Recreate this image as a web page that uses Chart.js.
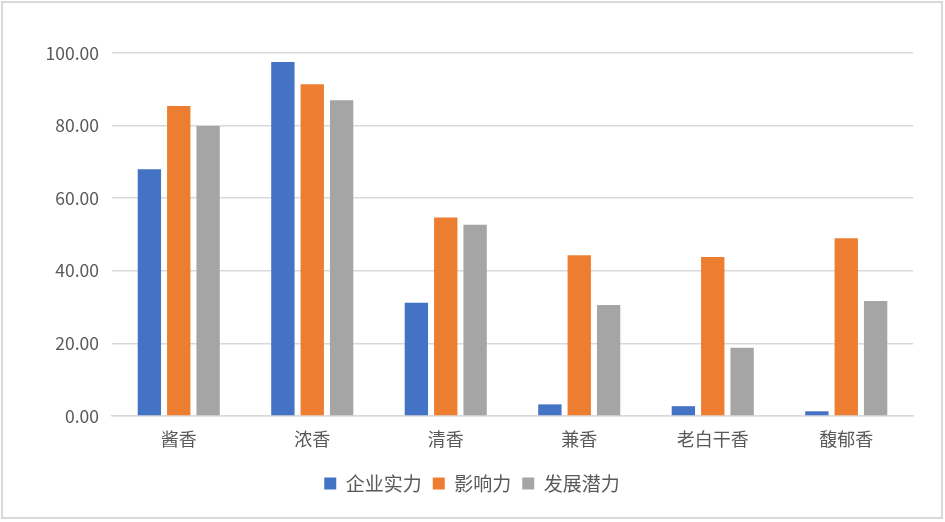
<!DOCTYPE html>
<html>
<head>
<meta charset="utf-8">
<script src="https://cdn.jsdelivr.net/npm/chart.js@4"></script>
<style>
html,body{margin:0;padding:0;background:#fff;}
#box{position:absolute;left:1px;top:1px;width:942px;height:518px;border:2px solid #d9d9d9;box-sizing:border-box;}
#wrap{position:absolute;left:0;top:0;width:938px;height:514px;}
</style>
</head>
<body>
<div id="box"><div id="wrap"><canvas id="c"></canvas></div></div>
<script>
const categories = ['酱香','浓香','清香','兼香','老白干香','馥郁香'];
const seriesNames = ['企业实力','影响力','发展潜力'];
const strength = [68.0, 97.5, 31.2, 3.2, 2.7, 1.3];
const influence = [85.4, 91.4, 54.7, 44.3, 43.8, 49.0];
const potential = [79.9, 87.0, 52.7, 30.6, 18.8, 31.7];
const yTicks = [0, 20, 40, 60, 80, 100];
const colors = ['#4472C4','#ED7D31','#A5A5A5'];

const FONT = '"Noto Sans CJK SC", "Noto Sans", sans-serif';
const TXT = '#595959';

const legendShift = {
  id: 'legendShift',
  afterLayout(chart) {
    if (chart.legend) { chart.legend.left += 14; chart.legend.right += 14; }
  }
};

new Chart(document.getElementById('c'), {
  type: 'bar',
  data: {
    labels: categories,
    datasets: [strength, influence, potential].map((d, i) => ({
      label: seriesNames[i],
      data: d,
      backgroundColor: colors[i],
      borderWidth: 0,
      categoryPercentage: 0.66,
      barPercentage: 0.795
    }))
  },
  plugins: [legendShift],
  options: {
    responsive: true,
    maintainAspectRatio: false,
    animation: false,
    layout: { padding: { left: 0, right: 28, top: 50, bottom: 14 } },
    plugins: {
      tooltip: { enabled: false },
      legend: {
        position: 'bottom',
        labels: {
          color: TXT,
          font: { family: FONT, size: 19 },
          boxWidth: 12,
          boxHeight: 12,
          padding: 11,
          useBorderRadius: false
        }
      }
    },
    scales: {
      x: {
        grid: { display: false, drawTicks: false },
        border: { display: true, color: '#d9d9d9', width: 1.5 },
        ticks: { color: TXT, font: { family: FONT, size: 18 }, padding: 12 },
        afterFit: s => { s.height = 47; }
      },
      y: {
        min: 0, max: 100,
        afterBuildTicks: s => { s.ticks = yTicks.map(v => ({ value: v })); },
        grid: { color: '#d9d9d9', lineWidth: 1.5, drawTicks: false },
        border: { display: false },
        ticks: {
          color: TXT,
          font: { family: FONT, size: 17.5 },
          padding: 13,
          callback: v => Number(v).toFixed(2)
        },
        afterFit: s => { s.width = 109; }
      }
    }
  }
});
</script>
</body>
</html>
